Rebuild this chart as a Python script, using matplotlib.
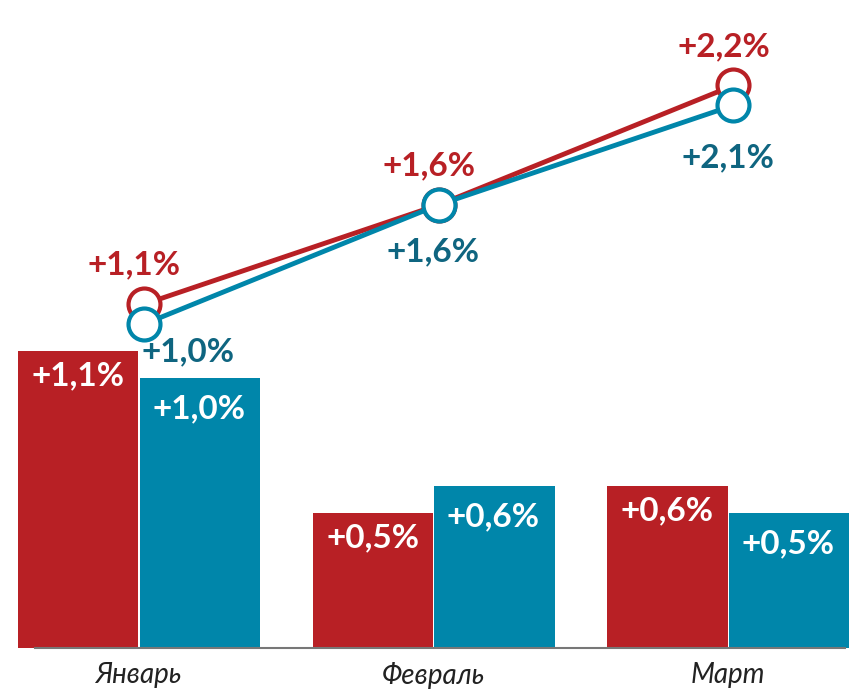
import matplotlib.pyplot as plt
import numpy as np

months = ['Январь', 'Февраль', 'Март']
bar_red = [1.1, 0.5, 0.6]
bar_teal = [1.0, 0.6, 0.5]
line_red = [1.1, 1.6, 2.2]
line_teal = [1.0, 1.6, 2.1]

red = '#b82025'
teal = '#0086aa'
teal_dark = '#0f6580'

plt.rcParams['font.family'] = ['Lato', 'DejaVu Sans']

fig = plt.figure(figsize=(8.66, 6.91), dpi=100)
ax = fig.add_axes([0, 0.0622, 1, 0.9378])
x = np.arange(len(months))
w = 0.408

ax.bar(x - w / 2, bar_red, w, color=red)
ax.bar(x + w / 2 + 0.005, bar_teal, w, color=teal)
ax.set_xlim(-0.47, 2.47)
ax.set_ylim(0, 2.4)


def fmt(v):
    return '+' + f'{v:.1f}'.replace('.', ',') + '%'


for xi, v in zip(x - w / 2, bar_red):
    ax.annotate(fmt(v), (xi, v), xytext=(0, -18), textcoords='offset points',
                ha='center', va='center', color='white', fontsize=24, fontweight='bold')
for xi, v in zip(x + w / 2, bar_teal):
    ax.annotate(fmt(v), (xi, v), xytext=(0, -22), textcoords='offset points',
                ha='center', va='center', color='white', fontsize=24, fontweight='bold')

for s in ['top', 'right', 'left']:
    ax.spines[s].set_visible(False)
ax.spines['bottom'].set_color('#777777')
ax.spines['bottom'].set_linewidth(1.5)
ax.spines['bottom'].set_bounds(-0.35, 2.4)
ax.set_yticks([])
ax.set_xticks(x)
ax.set_xticklabels(months, fontsize=20, fontstyle='italic', color='#222222')
ax.tick_params(axis='x', length=0, pad=10)

ax2 = ax.twinx()
ax2.set_ylim(-0.63, 2.63)
ax2.axis('off')
ax2.plot(x + 0.02, line_red, color=red, lw=3.5, marker='o', ms=23,
         mfc='white', mec=red, mew=3, zorder=3)
ax2.plot(x + 0.02, line_teal, color=teal, lw=3.5, marker='o', ms=23,
         mfc='white', mec=teal, mew=3, zorder=4)

for xi, v in zip(x, line_red):
    ax2.annotate(fmt(v), (xi, v), xytext=(-3, 28), textcoords='offset points',
                 ha='center', va='center', color=red, fontsize=24, fontweight='bold')
teal_off = [(36, -20), (0, -34), (0, -38)]
for xi, v, off in zip(x, line_teal, teal_off):
    ax2.annotate(fmt(v), (xi, v), xytext=off, textcoords='offset points',
                 ha='center', va='center', color=teal_dark, fontsize=24, fontweight='bold')

fig.savefig('out.png', dpi=100)
